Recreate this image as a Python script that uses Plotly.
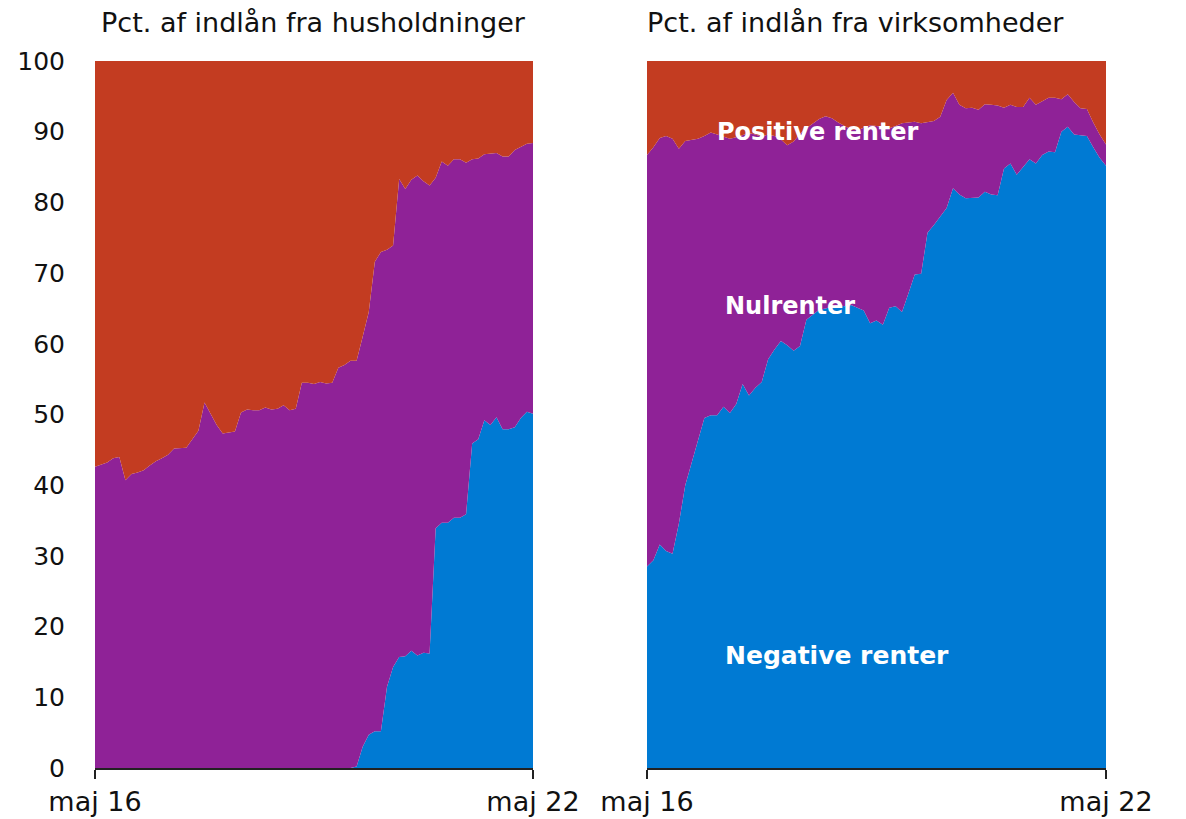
import plotly.graph_objects as go

# Month index 0 = maj 16 ... 72 = maj 22
months = list(range(73))
tick_vals = [0, 72]
tick_text = ["maj 16", "maj 22"]
y_ticks = [0, 10, 20, 30, 40, 50, 60, 70, 80, 90, 100]

# Households: share with negative rates, and share with negative-or-zero rates (cumulative)
hh_negative = [0]*43 + [0.2, 3, 4.7, 5.2, 5.2, 11.5, 14.3, 15.7, 15.8, 16.6, 15.9, 16.3, 16.2,
                        33.9, 34.7, 34.7, 35.4, 35.4, 35.9, 45.9, 46.5, 49.2, 48.5, 49.6, 47.9,
                        47.9, 48.2, 49.5, 50.4, 50.1]
hh_neg_or_zero = [42.6, 42.9, 43.2, 43.8, 44.0, 40.7, 41.6, 41.8, 42.1, 42.8, 43.4, 43.8, 44.3,
                  45.2, 45.2, 45.3, 46.5, 47.7, 51.7, 50.0, 48.5, 47.3, 47.5, 47.6, 50.3, 50.7,
                  50.6, 50.6, 51.0, 50.7, 50.8, 51.3, 50.6, 50.8, 54.5, 54.5, 54.3, 54.6, 54.4,
                  54.5, 56.6, 57.0, 57.6, 57.6, 61.0, 64.5, 71.6, 73.0, 73.3, 73.9, 83.3, 81.9,
                  83.2, 83.8, 83.0, 82.4, 83.5, 85.8, 85.2, 86.1, 86.1, 85.6, 86.1, 86.2, 86.8,
                  86.9, 87.0, 86.5, 86.5, 87.4, 87.9, 88.3, 88.4]

# Firms
fi_negative = [28.5, 29.4, 31.6, 30.7, 30.3, 34.6, 40.0, 43.3, 46.4, 49.5, 49.9, 49.9, 51.1,
               50.2, 51.5, 54.3, 52.7, 53.8, 54.6, 57.8, 59.2, 60.4, 59.8, 59.0, 59.7, 63.4,
               64.1, 64.8, 65.0, 65.3, 65.5, 65.3, 65.5, 65.1, 64.7, 62.9, 63.3, 62.7, 65.1,
               65.3, 64.5, 67.1, 69.8, 69.9, 75.7, 76.8, 78.0, 79.2, 82.0, 81.1, 80.6, 80.7,
               80.7, 81.5, 81.1, 81.0, 84.8, 85.5, 83.9, 85.0, 86.1, 85.5, 86.7, 87.2, 87.1,
               90.0, 90.7, 89.6, 89.5, 89.4, 87.8, 86.3, 85.2]
fi_neg_or_zero = [86.7, 87.8, 89.1, 89.4, 89.0, 87.6, 88.7, 88.9, 89.0, 89.4, 89.9, 89.6, 89.3,
                  89.0, 89.2, 89.5, 89.8, 89.6, 89.3, 89.6, 89.4, 88.9, 88.1, 88.6, 89.7, 90.5,
                  91.2, 91.8, 92.2, 91.9, 91.3, 90.8, 90.3, 90.2, 90.5, 90.9, 90.8, 90.6, 90.5,
                  90.8, 91.2, 91.3, 91.4, 91.2, 91.4, 91.5, 92.1, 94.5, 95.5, 93.8, 93.3, 93.4,
                  93.1, 93.9, 93.8, 93.7, 93.4, 93.8, 93.5, 93.5, 94.8, 93.8, 94.3, 94.8, 94.8,
                  94.6, 95.3, 94.2, 93.3, 93.2, 91.3, 89.6, 88.2]
total = [100]*73

RED = "rgb(195,60,33)"
PURPLE = "rgb(143,34,151)"
BLUE = "rgb(0,122,211)"
FONT = "DejaVu Sans"
TXT = "#111"

fig = go.Figure()

def add_panel(neg, negzero, xa, ya):
    fig.add_trace(go.Scatter(x=months, y=neg, mode="lines", line=dict(width=0, color=BLUE),
                             fill="tozeroy", fillcolor=BLUE, xaxis=xa, yaxis=ya, hoverinfo="skip"))
    fig.add_trace(go.Scatter(x=months, y=negzero, mode="lines", line=dict(width=0, color=PURPLE),
                             fill="tonexty", fillcolor=PURPLE, xaxis=xa, yaxis=ya, hoverinfo="skip"))
    fig.add_trace(go.Scatter(x=months, y=total, mode="lines", line=dict(width=0, color=RED),
                             fill="tonexty", fillcolor=RED, xaxis=xa, yaxis=ya, hoverinfo="skip"))

add_panel(hh_negative, hh_neg_or_zero, "x", "y")
add_panel(fi_negative, fi_neg_or_zero, "x2", "y2")

xcommon = dict(range=[0, 72], tickvals=tick_vals, ticktext=tick_text, ticks="outside",
               ticklen=9, tickwidth=1.5, tickcolor="#222", showline=True, linecolor="#222",
               linewidth=2, showgrid=False, zeroline=False, automargin=False,
               tickfont=dict(family=FONT, size=27, color=TXT))
ycommon = dict(range=[0, 100], tickvals=y_ticks, showgrid=False, zeroline=False,
               showline=False, ticks="", automargin=False)

d1 = (533 - 95) / (1106 - 95)
d2 = (647 - 95) / (1106 - 95)
fig.update_layout(
    width=1186, height=819,
    margin=dict(l=95, r=80, t=61, b=51),
    paper_bgcolor="white", plot_bgcolor="white",
    showlegend=False,
    xaxis=dict(domain=[0, d1], anchor="y", **xcommon),
    yaxis=dict(domain=[0, 1], anchor="x", ticklabelstandoff=29,
               tickfont=dict(family=FONT, size=25, color=TXT), **ycommon),
    xaxis2=dict(domain=[d2, 1], anchor="y2", **xcommon),
    yaxis2=dict(domain=[0, 1], anchor="x2", showticklabels=False, **ycommon),
    annotations=[
        dict(text="Pct. af indlån fra husholdninger", xref="paper", yref="paper",
             x=0.004, y=1.055, xanchor="left", yanchor="middle", showarrow=False,
             font=dict(family=FONT, size=27, color=TXT)),
        dict(text="Pct. af indlån fra virksomheder", xref="paper", yref="paper",
             x=d2 - 0.002, y=1.055, xanchor="left", yanchor="middle", showarrow=False,
             font=dict(family=FONT, size=27, color=TXT)),
        dict(text="<b>Positive renter</b>", xref="x2", yref="y2", x=26.8, y=90.0,
             showarrow=False, font=dict(family=FONT, size=24, color="white")),
        dict(text="<b>Nulrenter</b>", xref="x2", yref="y2", x=22.4, y=65.3,
             showarrow=False, font=dict(family=FONT, size=24, color="white")),
        dict(text="<b>Negative renter</b>", xref="x2", yref="y2", x=29.8, y=15.9,
             showarrow=False, font=dict(family=FONT, size=25, color="white")),
    ],
)

fig.write_html("out.html", config={"displayModeBar": False},
               post_script="document.body.style.margin='0';")
